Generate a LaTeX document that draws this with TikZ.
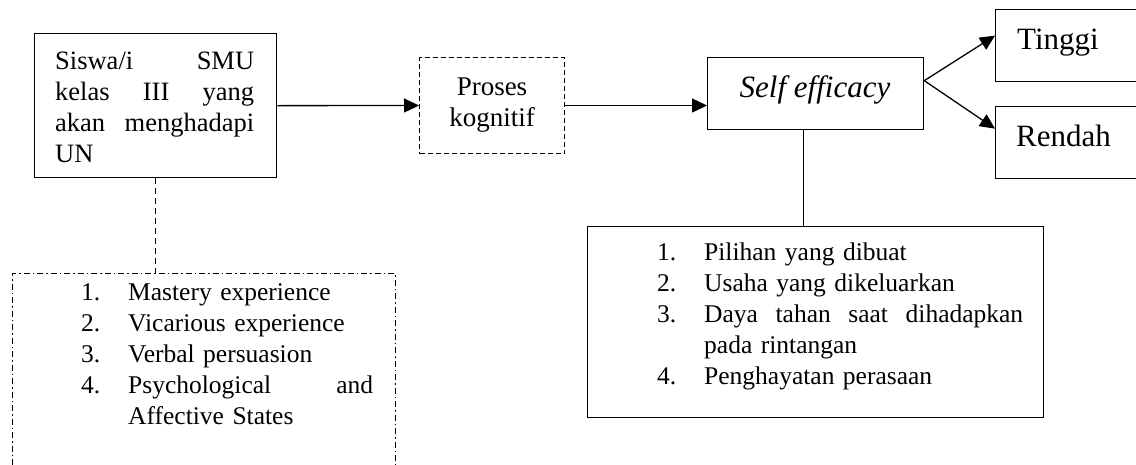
\documentclass[tikz,border=0pt]{standalone}
\usepackage{fontspec}
\setmainfont{Liberation Serif}
\usetikzlibrary{positioning,arrows.meta}
\newcommand{\fullline}[1]{\makebox[\hsize][l]{#1}}
\newcommand{\itemno}[1]{\makebox[47pt][l]{#1}}

\begin{document}
\begin{tikzpicture}[x=1pt,y=-1pt,
  frame/.style={draw,line width=1.3pt,inner sep=0pt,anchor=north west},
  txt/.style={inner sep=0pt,anchor=north west,align=left},
  link/.style={line width=1.3pt,-{Triangle[length=15pt,width=14pt]}},
  listfont/.style={font=\fontsize{25.5}{31}\selectfont}]
\useasboundingbox (0,0) rectangle (1136,464);
% 			boxes of the top row
			\node[frame,minimum width=242pt,minimum height=144pt] (siswa) at (34,33) {};
			\node[txt,text width=199pt,font=\fontsize{26.5}{31}\selectfont] (siswatext) at (55,52)
			  {\fullline{Siswa/i\hfill SMU}\\\fullline{kelas\hfill III\hfill yang}\\\fullline{akan\hfill menghadapi}\\UN};
			\node[frame,dashed,dash pattern=on 5pt off 3pt,line width=1pt,minimum width=145pt,minimum height=96pt,
			  align=center,font=\fontsize{27}{31}\selectfont] (proses) at (419,57) {Proses\\kognitif};
			\node[frame,minimum width=216pt,minimum height=72pt] (self) at (707,57) {};
			\node[inner sep=0pt,anchor=base,font=\fontsize{31}{36}\selectfont\itshape] (selftext) at (815,97) {Self efficacy};
			\node[frame,minimum width=200pt,minimum height=72pt] (tinggi) at (995,9) {};
			\node[inner sep=0pt,anchor=base west,font=\fontsize{31}{36}\selectfont] (tinggitext) at (1017,49) {Tinggi};
			\node[frame,minimum width=200pt,minimum height=72pt] (rendah) at (995,106) {};
			\node[inner sep=0pt,anchor=base west,font=\fontsize{31}{36}\selectfont] (rendahtext) at (1016,146) {Rendah};

% 			boxes below
			\node[frame,dash pattern=on 6pt off 3pt on 1.5pt off 3pt,line width=1pt,minimum width=383pt,minimum height=250pt] (sumber) at (12,273) {};
			\node[txt,listfont,text width=292pt] (sumbertext) at (81,283)
			  {\itemno{1.}Mastery experience\\
			   \itemno{2.}Vicarious experience\\
			   \itemno{3.}Verbal persuasion\\
			   \itemno{4.}\makebox[245pt][l]{Psychological\hfill and}\\
			   \itemno{}Affective States};
			\node[frame,minimum width=456pt,minimum height=191pt] (dampak) at (587,226) {};
			\node[txt,listfont,text width=366pt] (dampaktext) at (657,243)
			  {\itemno{1.}Pilihan yang dibuat\\
			   \itemno{2.}Usaha yang dikeluarkan\\
			   \itemno{3.}\makebox[319pt][l]{Daya\hfill tahan\hfill saat\hfill dihadapkan}\\
			   \itemno{}pada rintangan\\
			   \itemno{4.}Penghayatan perasaan};

			\begin{scope}
			\draw[link] (siswa.east) -- (proses.west);
			\draw[link] (proses.east) -- (self.west |- proses.east);
			\draw[link] ([yshift=13pt]self.east) -- ([yshift=10pt]tinggi.west);
			\draw[link] ([yshift=13pt]self.east) -- ([yshift=14pt]rendah.west);
			\end{scope}

			\draw[line width=1.3pt] ([xshift=-12pt]self.south) -- ([xshift=-12pt]self.south |- dampak.north);
			\draw[line width=1pt,dash pattern=on 6pt off 4pt] (siswa.south) -- (siswa.south |- sumber.north);
\end{tikzpicture}
\end{document}
